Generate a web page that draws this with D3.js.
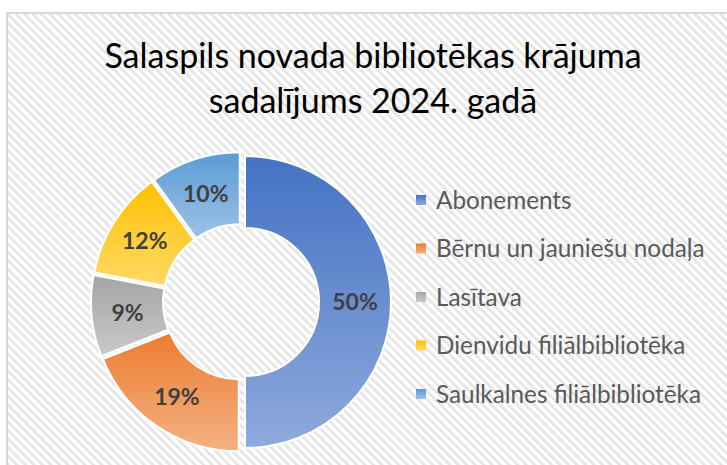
<!DOCTYPE html>
<html>
<head>
<meta charset="utf-8">
<script src="https://cdn.jsdelivr.net/npm/d3@7"></script>
<style>
html,body{margin:0;padding:0;background:#fff;}
svg{display:block;}
</style>
</head>
<body>
<svg id="chart" width="727" height="465"></svg>
<script>
const categories = ["Abonements", "Bērnu un jauniešu nodaļa", "Lasītava", "Dienvidu filiālbibliotēka", "Saulkalnes filiālbibliotēka"];
const values = [50, 19, 9, 12, 10];
const colorsTop = ["#4472C4", "#ED7D31", "#A5A5A5", "#FFC000", "#5B9BD5"];
const colorsBottom = ["#8FAADC", "#F4B183", "#C9C9C9", "#FFD966", "#9DC3E6"];
const titleLines = ["Salaspils novada bibliotēkas krājuma", "sadalījums 2024. gadā"];

const svg = d3.select("#chart");
const defs = svg.append("defs");

// background pattern
const pat = defs.append("pattern").attr("id", "stripes")
  .attr("width", 6).attr("height", 6)
  .attr("patternUnits", "userSpaceOnUse")
  .attr("patternTransform", "rotate(-45)");
pat.append("rect").attr("width", 6).attr("height", 6).attr("fill", "#ffffff");
pat.append("rect").attr("x", 0).attr("width", 2.6).attr("height", 6).attr("fill", "#e4e4e4");

svg.append("rect").attr("x", 0).attr("y", 0).attr("width", 727).attr("height", 465).attr("fill", "#fff");
svg.append("rect").attr("x", 7).attr("y", 13).attr("width", 760).attr("height", 500)
  .attr("fill", "url(#stripes)").attr("stroke", "#d9d9d9").attr("stroke-width", 2);

// gradients
categories.forEach((c, i) => {
  const g = defs.append("linearGradient").attr("id", "grad" + i)
    .attr("x1", 0).attr("y1", 0).attr("x2", 0).attr("y2", 1);
  g.append("stop").attr("offset", "0%").attr("stop-color", colorsTop[i]);
  g.append("stop").attr("offset", "100%").attr("stop-color", colorsBottom[i]);
});

// title
const title = svg.append("text").attr("x", 373).attr("text-anchor", "middle")
  .attr("font-family", "Lato, 'Open Sans', sans-serif").attr("font-size", 34).attr("fill", "#000");
titleLines.forEach((t, i) => {
  title.append("tspan").attr("x", 373).attr("y", 68 + i * 45).text(t);
});

// donut
const cx = 241, cy = 302, R = 146, r = 74, explode = 4;
const pie = d3.pie().sort(null).value(d => d);
const arcs = pie(values);
const arc = d3.arc().innerRadius(r).outerRadius(R);
const total = d3.sum(values);

const g = svg.append("g").attr("transform", `translate(${cx},${cy})`);
const slices = g.selectAll("g.slice").data(arcs).enter().append("g")
  .attr("class", "slice")
  .attr("transform", d => {
    const a = (d.startAngle + d.endAngle) / 2;
    return `translate(${explode * Math.sin(a)},${-explode * Math.cos(a)})`;
  });
slices.append("path").attr("d", arc)
  .attr("fill", (d, i) => `url(#grad${i})`)
  .attr("stroke", "#fff").attr("stroke-width", 2).attr("stroke-linejoin", "round");
slices.append("text")
  .attr("transform", d => `translate(${arc.centroid(d)})`)
  .attr("text-anchor", "middle").attr("dy", "0.36em")
  .attr("font-family", "Lato, 'Open Sans', sans-serif").attr("font-weight", "bold")
  .attr("font-size", 23).attr("fill", "#404040")
  .text(d => Math.round(d.data / total * 100) + "%");

// legend
const legY = d3.scalePoint().domain(categories).range([200, 394]);
const leg = svg.append("g");
const items = leg.selectAll("g").data(categories).enter().append("g")
  .attr("transform", d => `translate(416,${legY(d)})`);
items.append("rect").attr("x", 0).attr("y", -5).attr("width", 10).attr("height", 10)
  .attr("fill", (d, i) => `url(#grad${i})`);
items.append("text").attr("x", 20).attr("dy", "0.35em")
  .attr("font-family", "Lato, 'Open Sans', sans-serif").attr("font-size", 24.3)
  .attr("fill", "#595959").text(d => d);
</script>
</body>
</html>
